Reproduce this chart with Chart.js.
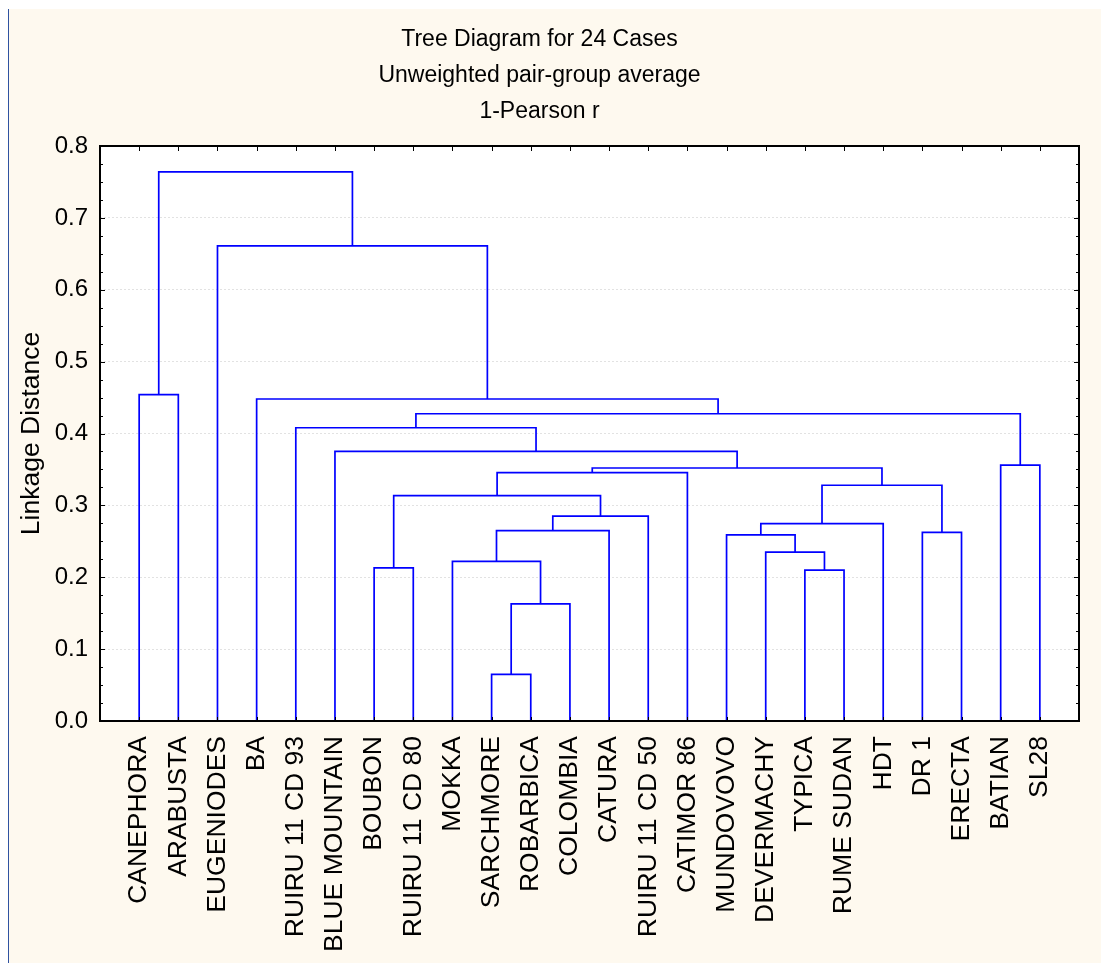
<!DOCTYPE html>
<html>
<head>
<meta charset="utf-8">
<title>Tree Diagram for 24 Cases</title>
<script src="https://cdn.jsdelivr.net/npm/chart.js@4.4.1/dist/chart.umd.min.js"></script>
<style>
  html, body { margin: 0; padding: 0; background: #fff; }
</style>
</head>
<body>
<canvas id="tree" width="1101" height="963"></canvas>
<script>
// leaves, in the order they appear along the bottom axis
const leafLabels = [
    'CANEPHORA', 'ARABUSTA', 'EUGENIODES', 'BA', 'RUIRU 11 CD 93', 'BLUE MOUNTAIN',
    'BOUBON', 'RUIRU 11 CD 80', 'MOKKA', 'SARCHMORE', 'ROBARBICA', 'COLOMBIA',
    'CATURA', 'RUIRU 11 CD 50', 'CATIMOR 86', 'MUNDOVOVO', 'DEVERMACHY', 'TYPICA',
    'RUME SUDAN', 'HDT', 'DR 1', 'ERECTA', 'BATIAN', 'SL28'
];

// merges: index < 24 is a leaf, index >= 24 is an earlier merge (24 + k)
const mergeLeft   = [9, 24, 17, 6, 8, 16, 15, 20, 28, 30, 32, 27, 33, 35, 37, 22, 5, 4, 41, 3, 0, 2, 44];
const mergeRight  = [10, 11, 18, 7, 25, 26, 29, 21, 12, 19, 13, 34, 31, 14, 36, 23, 38, 40, 39, 42, 1, 43, 45];
const mergeHeight = [0.065, 0.163, 0.210, 0.213, 0.222, 0.235, 0.259, 0.2625, 0.265, 0.2745, 0.285,
                     0.3135, 0.328, 0.3455, 0.352, 0.356, 0.375, 0.408, 0.4275, 0.448, 0.454, 0.661, 0.764];

const titleLines = ['Tree Diagram for 24 Cases', 'Unweighted pair-group average', '1-Pearson r'];
const yAxisTitle = 'Linkage Distance';
const yMin = 0;
const yMax = 0.8;
const yStep = 0.1;

const FONT = "'Liberation Sans', Arial, Helvetica, sans-serif";
const nLeaves = leafLabels.length;

// build the U-shaped links from the merge table
const nodeX = leafLabels.map((_, i) => i + 1);
const nodeY = leafLabels.map(() => 0);
const datasets = [];
for (let k = 0; k < mergeHeight.length; k++) {
    const a = mergeLeft[k];
    const b = mergeRight[k];
    const h = mergeHeight[k];
    datasets.push({
        data: [
            { x: nodeX[a], y: nodeY[a] },
            { x: nodeX[a], y: h },
            { x: nodeX[b], y: h },
            { x: nodeX[b], y: nodeY[b] }
        ],
        showLine: true,
        borderColor: '#0000ff',
        borderWidth: 1.7,
        pointRadius: 0,
        tension: 0,
        fill: false
    });
    nodeX.push((nodeX[a] + nodeX[b]) / 2);
    nodeY.push(h);
}

// backgrounds: white page, cream panel, white plot area
const paper = {
    id: 'paper',
    beforeDraw(chart) {
        const { ctx, width, height, chartArea: a } = chart;
        ctx.save();
        ctx.fillStyle = '#ffffff';
        ctx.fillRect(0, 0, width, height);
        ctx.fillStyle = '#fef9ef';
        ctx.fillRect(8, 9, width - 8, height - 9);
        ctx.fillStyle = '#2f52a0';
        ctx.fillRect(8, 9, 1, height - 9);
        ctx.fillStyle = '#ffffff';
        ctx.fillRect(a.left, a.top, a.right - a.left, a.bottom - a.top);
        ctx.restore();
    }
};

// frame with inward tick marks on all four sides
const frameTicks = {
    id: 'frameTicks',
    afterDatasetsDraw(chart) {
        const { ctx, chartArea: a, scales: { x, y } } = chart;
        ctx.save();
        ctx.strokeStyle = '#000';
        ctx.lineWidth = 1;
        ctx.beginPath();
        const minor = yStep / 4;
        const count = Math.round((yMax - yMin) / minor);
        for (let i = 0; i <= count; i++) {
            const py = Math.round(y.getPixelForValue(yMin + i * minor)) + 0.5;
            const len = i % 4 === 0 ? 5 : 3;
            ctx.moveTo(a.left, py); ctx.lineTo(a.left + len, py);
            ctx.moveTo(a.right, py); ctx.lineTo(a.right - len, py);
        }
        for (let i = 1; i <= nLeaves; i++) {
            const px = Math.round(x.getPixelForValue(i)) + 0.5;
            ctx.moveTo(px, a.top); ctx.lineTo(px, a.top + 5);
            ctx.moveTo(px, a.bottom); ctx.lineTo(px, a.bottom - 4);
        }
        ctx.stroke();
        ctx.lineWidth = 2;
        ctx.strokeRect(a.left, a.top, a.right - a.left, a.bottom - a.top);
        ctx.restore();
    }
};

new Chart(document.getElementById('tree').getContext('2d'), {
    type: 'scatter',
    data: { datasets: datasets },
    plugins: [paper, frameTicks],
    options: {
        responsive: false,
        animation: false,
        devicePixelRatio: 1,
        layout: { padding: { left: 0, right: 22, top: 0, bottom: 0 } },
        plugins: {
            legend: { display: false },
            tooltip: { enabled: false },
            title: {
                display: true,
                text: titleLines,
                color: '#000',
                font: { family: FONT, size: 23, weight: 'normal', lineHeight: 36 / 23 },
                padding: { top: 22, bottom: 16 }
            }
        },
        scales: {
            x: {
                type: 'linear',
                position: 'bottom',
                min: 0,
                max: nLeaves + 1,
                grid: { display: false, drawTicks: false },
                border: { display: false },
                ticks: {
                    stepSize: 1,
                    autoSkip: false,
                    minRotation: 90,
                    maxRotation: 90,
                    padding: 15,
                    color: '#000',
                    font: { family: FONT, size: 26.5 },
                    callback: v => (Number.isInteger(v) && v >= 1 && v <= nLeaves) ? leafLabels[v - 1] : ''
                },
                afterFit(scale) {
                    scale.height = 242;
                    scale.paddingLeft = 0;
                    scale.paddingRight = 0;
                }
            },
            y: {
                type: 'linear',
                min: yMin,
                max: yMax,
                grid: { color: '#e2e2e2', lineWidth: 1, drawTicks: false },
                border: { display: false, dash: [2, 2] },
                ticks: {
                    stepSize: yStep,
                    padding: 12,
                    color: '#000',
                    font: { family: FONT, size: 24 },
                    callback: v => Number(v).toFixed(1)
                },
                title: {
                    display: true,
                    text: yAxisTitle,
                    color: '#000',
                    font: { family: FONT, size: 26.5 },
                    padding: { top: 16, bottom: 0 }
                },
                afterFit(scale) {
                    scale.width = 100;
                    scale.paddingTop = 0;
                    scale.paddingBottom = 0;
                }
            }
        }
    }
});
</script>
</body>
</html>
